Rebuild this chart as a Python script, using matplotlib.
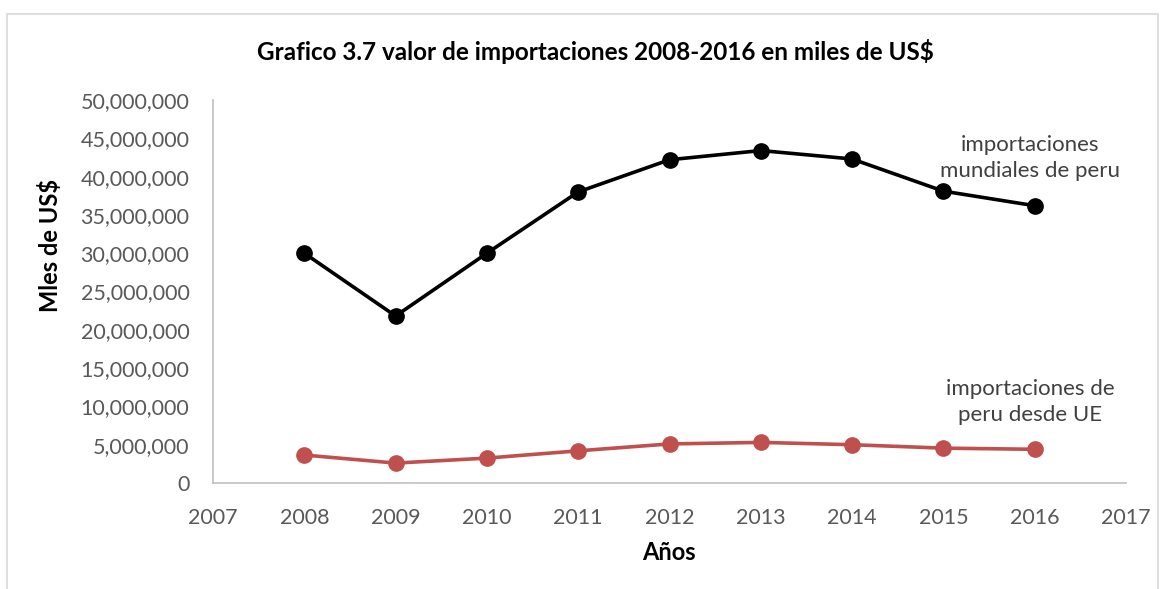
import matplotlib.pyplot as plt
from matplotlib.patches import Rectangle
from matplotlib.ticker import FuncFormatter

# Datos (miles de US$)
anios = [2008, 2009, 2010, 2011, 2012, 2013, 2014, 2015, 2016]
import_mundiales = [30000000, 21800000, 30000000, 38000000, 42200000, 43400000, 42300000, 38100000, 36200000]
import_ue = [3650000, 2600000, 3250000, 4200000, 5100000, 5300000, 5000000, 4550000, 4400000]

plt.rcParams['font.family'] = ['Lato', 'DejaVu Sans']

fig = plt.figure(figsize=(11.66, 5.89), dpi=100)
ax = fig.add_axes([213 / 1166, 1 - 483 / 589, (1126 - 213) / 1166, (483 - 100) / 589])

ax.plot(anios, import_mundiales, color='black', linewidth=2.6, marker='o', markersize=11)
ax.plot(anios, import_ue, color='#C0504D', linewidth=2.6, marker='o', markersize=11)

ax.set_xlim(2007, 2017)
ax.set_ylim(0, 50000000)
ax.set_xticks(range(2007, 2018))
ax.set_yticks(range(0, 50000001, 5000000))
ax.yaxis.set_major_formatter(FuncFormatter(lambda v, p: f"{int(v):,}"))
ax.tick_params(length=0, labelsize=15.5, colors='#595959')
ax.tick_params(axis='y', pad=17)
ax.tick_params(axis='x', pad=18)

for s in ['top', 'right']:
    ax.spines[s].set_visible(False)
for s in ['left', 'bottom']:
    ax.spines[s].set_color('#BFBFBF')
    ax.spines[s].set_linewidth(1.2)

fig.text(669 / 1166, 1 - 552 / 589, 'Años', ha='center', va='center', fontsize=17, fontweight='bold')
fig.text(50 / 1166, 1 - 245 / 589, 'Mles de US$', ha='center', va='center', rotation=90,
         fontsize=17, fontweight='bold')

fig.text(595 / 1166, 1 - 52 / 589, 'Grafico 3.7 valor de importaciones 2008-2016 en miles de US$',
         ha='center', va='center', fontsize=17.5, fontweight='bold')

ax.text(2015.95, 42400000, 'importaciones\nmundiales de peru', ha='center', va='center',
        fontsize=16, color='#404040', linespacing=1.35)
ax.text(2015.95, 10600000, 'importaciones de\nperu desde UE', ha='center', va='center',
        fontsize=16, color='#404040', linespacing=1.35)

# marco del gráfico
fig.patches.append(Rectangle((7 / 1166, -0.05), (1158 - 7) / 1166, 1.05 - 14 / 589,
                             transform=fig.transFigure, fill=False, edgecolor='#D9D9D9', linewidth=1.2))

plt.savefig('out.png', dpi=100)
